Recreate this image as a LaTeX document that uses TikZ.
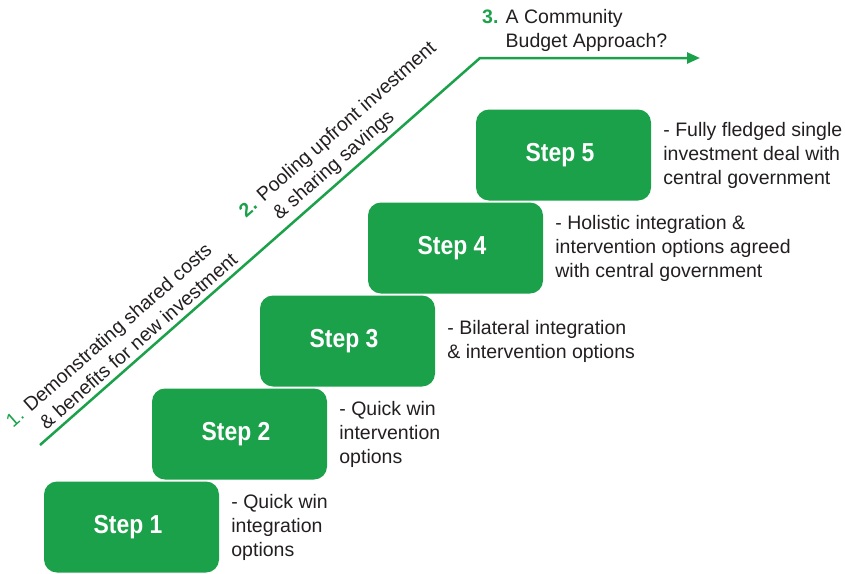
\documentclass[tikz,border=0pt]{standalone}
\usepackage{fontspec}
\setmainfont{Liberation Sans}
\newfontfamily\stepfont{Liberation Sans}[FakeStretch=0.88]
\usetikzlibrary{positioning,arrows.meta}
\definecolor{stepgreen}{RGB}{27,161,74}
\definecolor{notegray}{RGB}{35,31,32}

\begin{document}
\begin{tikzpicture}[x=1pt,y=-1pt,
  stepbox/.style={fill=stepgreen,rounded corners=13pt,minimum width=175pt,minimum height=91pt,
    inner sep=0pt,text=white,font=\stepfont\bfseries\fontsize{26}{30}\selectfont},
  note/.style={anchor=west,align=left,inner sep=0pt,text=notegray,
    font=\fontsize{19.5}{24}\selectfont},
  trend/.style={stepgreen,line width=2.5pt},
  phase/.style={sloped,above=5pt,inner sep=0pt,align=left,text=notegray,
    font=\fontsize{19.5}{24}\selectfont}]
  \useasboundingbox (0,0) rectangle (845,573);
  % the staircase
  \foreach \i/\txt in {1/{- Quick win\\integration\\options},
                       2/{- Quick win\\intervention\\options},
                       3/{- Bilateral integration\\\& intervention options},
                       4/{- Holistic integration \&\\intervention options agreed\\with central government},
                       5/{- Fully fledged single\\investment deal with\\central government}}{
    \node[stepbox] (step\i) at ({131.5+108*(\i-1)},{527-93*(\i-1)}) {\hspace*{-7pt}Step \i};
    \node[note] (note\i) at ([xshift=12pt]step\i.east) {\txt};
  }
  % the trend line
  \coordinate (base) at (40,445);
  \coordinate (knee) at (480,58);
  \coordinate (tip) at (700,58);
  \draw[trend,-{Triangle[length=13pt,width=11pt]}] (base)
    -- node[phase,pos=0.223] (phase1) {\textcolor{stepgreen}{1.} Demonstrating shared costs\\
         \phantom{1. }\& benefits for new investment}
       node[phase,pos=0.737] (phase2) {\textcolor{stepgreen}{\textbf{2.}} Pooling upfront investment\\
         \phantom{\textbf{2.} }\& sharing savings}
       (knee) -- (tip);
  \node[note,anchor=north west] (phase3) at (482,9) {\textcolor{stepgreen}{\textbf{3.}} A Community\\
    \phantom{\textbf{3.} }Budget Approach?};
\end{tikzpicture}
\end{document}
